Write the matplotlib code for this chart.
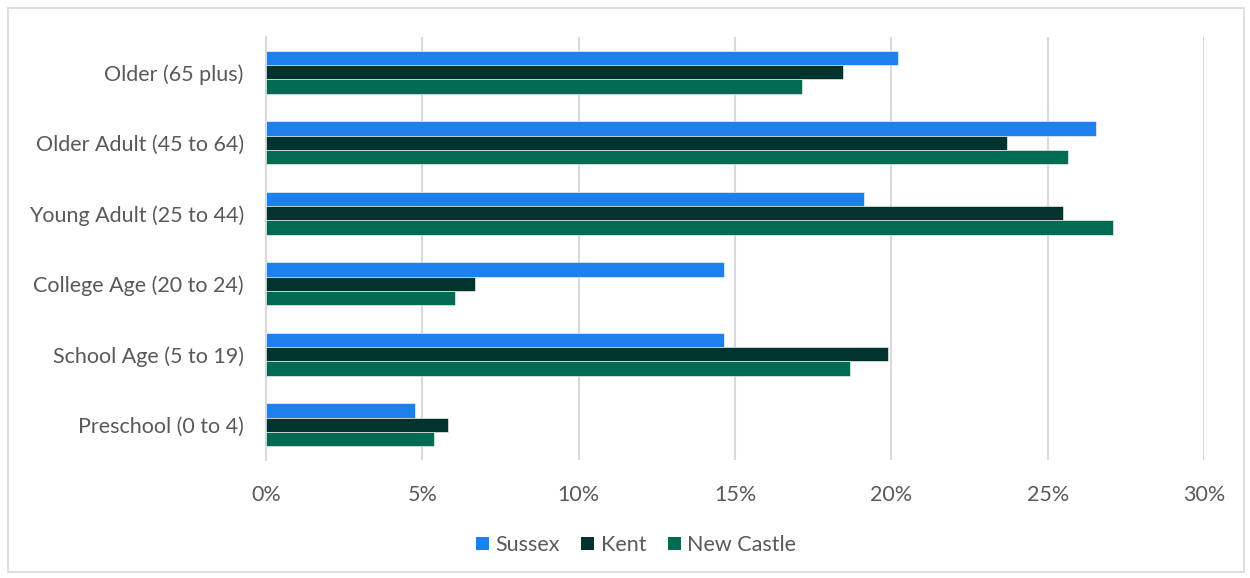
import matplotlib
matplotlib.use("Agg")
import matplotlib.pyplot as plt
from matplotlib.patches import Rectangle
import numpy as np

categories = ["Preschool (0 to 4)", "School Age (5 to 19)", "College Age (20 to 24)",
              "Young Adult (25 to 44)", "Older Adult (45 to 64)", "Older (65 plus)"]
series_names = ["Sussex", "Kent", "New Castle"]
sussex = [4.77, 14.66, 14.66, 19.14, 26.56, 20.22]
kent = [5.82, 19.90, 6.69, 25.48, 23.71, 18.44]
new_castle = [5.38, 18.69, 6.05, 27.10, 25.65, 17.15]
colors = ["#1E80ED", "#00332E", "#006A52"]
xticks = [0, 5, 10, 15, 20, 25, 30]

plt.rcParams['font.family'] = ['Lato', 'DejaVu Sans']

fig = plt.figure(figsize=(12.5, 5.78), dpi=100)
fig.patches.append(Rectangle((8/1250, 1-572/578), 1236/1250, 564/578, transform=fig.transFigure,
                             fill=False, edgecolor="#D9D9D9", linewidth=1.2))
ax = fig.add_axes([266/1250, 1-460/578, 938/1250, 423/578])

y = np.arange(len(categories))
h = 0.205
for i, (vals, name, c) in enumerate(zip([sussex, kent, new_castle], series_names, colors)):
    ax.barh(y + (1 - i) * h, vals, height=h, color=c, label=name,
            edgecolor="#FFFFFF", linewidth=0.4, zorder=3)

ax.set_xlim(0, 30)
ax.set_ylim(-0.5, 5.5)
ax.set_xticks(xticks)
ax.set_xticklabels([f"{t}%" for t in xticks])
ax.set_yticks(y)
ax.set_yticklabels(categories)
ax.tick_params(axis='both', length=0, labelsize=15.5, colors="#595959")
ax.tick_params(axis='x', pad=18)
ax.tick_params(axis='y', pad=16)
ax.grid(axis='x', color="#D9D9D9", linewidth=1.5, zorder=0)
for s in ["top", "right", "bottom"]:
    ax.spines[s].set_visible(False)
ax.spines["left"].set_color("#D9D9D9")
ax.spines["left"].set_linewidth(1.5)

leg = fig.legend(loc="center", bbox_to_anchor=(636/1250, 1-545/578), ncol=3, frameon=False,
                 fontsize=15.5, handlelength=0.6, handleheight=0.6, handletextpad=0.3,
                 columnspacing=1.0, labelcolor="#595959")
for p in leg.get_patches():
    p.set_edgecolor("none")

fig.savefig("out.png", dpi=100, facecolor="white")
